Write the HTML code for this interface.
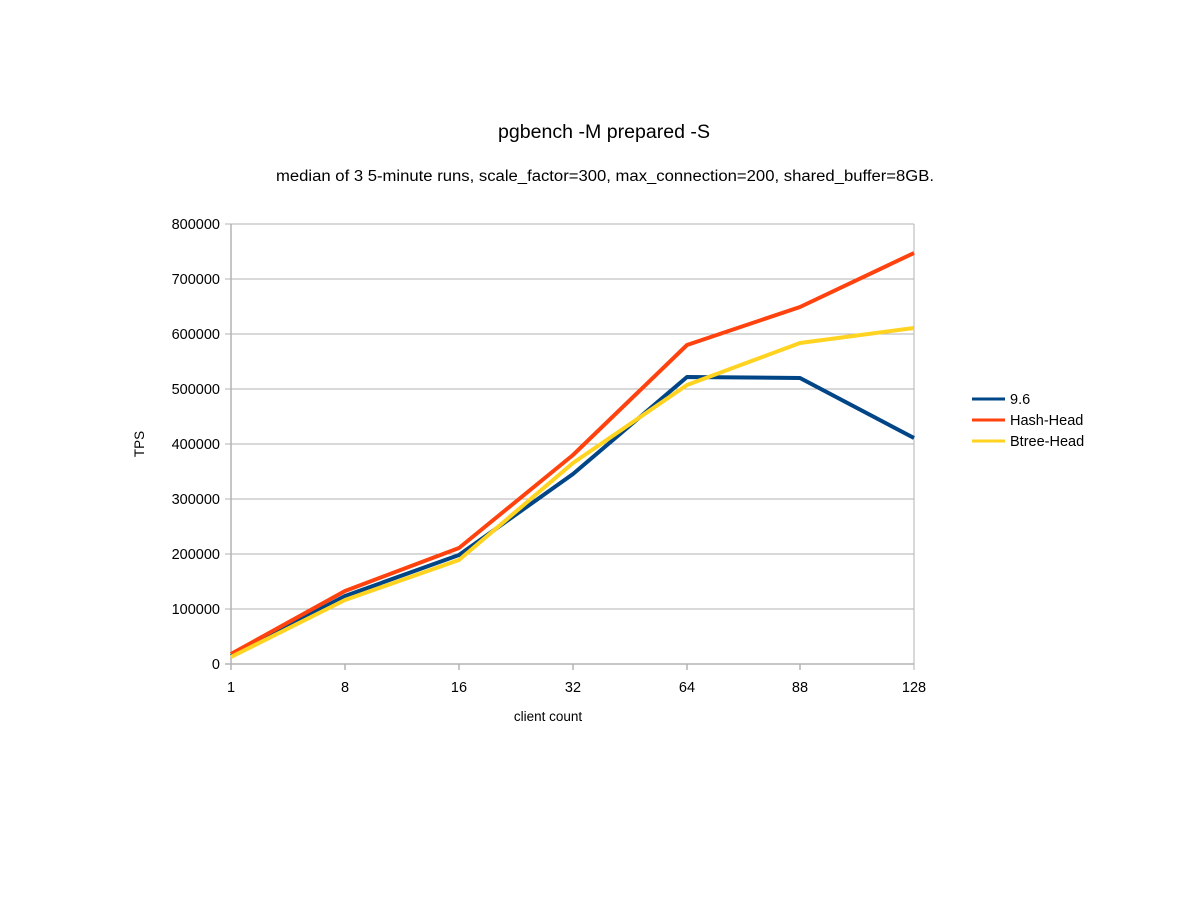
<!DOCTYPE html>
<html><head><meta charset="utf-8"><style>
body{margin:0;background:#fff;}
text{font-family:"Liberation Sans",Arial,sans-serif;fill:#000;}
</style></head><body>
<svg width="1200" height="900" xmlns="http://www.w3.org/2000/svg">
<rect width="1200" height="900" fill="#fff"/>
<text x="498" y="138" font-size="19" textLength="212" lengthAdjust="spacingAndGlyphs">pgbench -M prepared -S</text>
<text x="276" y="181" font-size="15.5" textLength="658" lengthAdjust="spacingAndGlyphs">median of 3 5-minute runs, scale_factor=300, max_connection=200, shared_buffer=8GB.</text>
<g stroke="#b3b3b3" stroke-width="1">
<line x1="225" y1="224" x2="914" y2="224"/>
<line x1="225" y1="279" x2="914" y2="279"/>
<line x1="225" y1="334" x2="914" y2="334"/>
<line x1="225" y1="389" x2="914" y2="389"/>
<line x1="225" y1="444" x2="914" y2="444"/>
<line x1="225" y1="499" x2="914" y2="499"/>
<line x1="225" y1="554" x2="914" y2="554"/>
<line x1="225" y1="609" x2="914" y2="609"/>
<line x1="914" y1="224" x2="914" y2="670"/>
</g>
<g stroke="#b3b3b3" stroke-width="1.5">
<line x1="231" y1="224" x2="231" y2="670"/>
<line x1="225" y1="664" x2="914" y2="664"/>
<line x1="345" y1="664" x2="345" y2="670"/>
<line x1="459" y1="664" x2="459" y2="670"/>
<line x1="573" y1="664" x2="573" y2="670"/>
<line x1="687" y1="664" x2="687" y2="670"/>
<line x1="800" y1="664" x2="800" y2="670"/>
</g>
<g font-size="14.5" text-anchor="end">
<text x="220" y="229">800000</text>
<text x="220" y="284">700000</text>
<text x="220" y="339">600000</text>
<text x="220" y="394">500000</text>
<text x="220" y="449">400000</text>
<text x="220" y="504">300000</text>
<text x="220" y="559">200000</text>
<text x="220" y="614">100000</text>
<text x="220" y="669">0</text>
</g>
<g font-size="14.5" text-anchor="middle">
<text x="231" y="692">1</text>
<text x="345" y="692">8</text>
<text x="459" y="692">16</text>
<text x="573" y="692">32</text>
<text x="687" y="692">64</text>
<text x="800" y="692">88</text>
<text x="914" y="692">128</text>
</g>
<text x="548" y="721" font-size="13.5" text-anchor="middle">client count</text>
<text x="144" y="444" font-size="13.5" text-anchor="middle" transform="rotate(-90 144 444)">TPS</text>
<g fill="none" stroke-width="4" stroke-linejoin="round">
<polyline stroke="#004586" points="231,656 345,596 459,555 573,474 687,377 800,378 914,438"/>
<polyline stroke="#ff420e" points="231,654 345,591 459,548 573,455 687,345 800,307 914,253"/>
<polyline stroke="#ffd320" points="231,657 345,600 459,560 573,463 687,385 800,343 914,328"/>
</g>
<g stroke-width="3">
<line x1="972" y1="399" x2="1005" y2="399" stroke="#004586"/>
<line x1="972" y1="420" x2="1005" y2="420" stroke="#ff420e"/>
<line x1="972" y1="441" x2="1005" y2="441" stroke="#ffd320"/>
</g>
<g font-size="14.5">
<text x="1010" y="404">9.6</text>
<text x="1010" y="425">Hash-Head</text>
<text x="1010" y="446">Btree-Head</text>
</g>
</svg>
</body></html>
